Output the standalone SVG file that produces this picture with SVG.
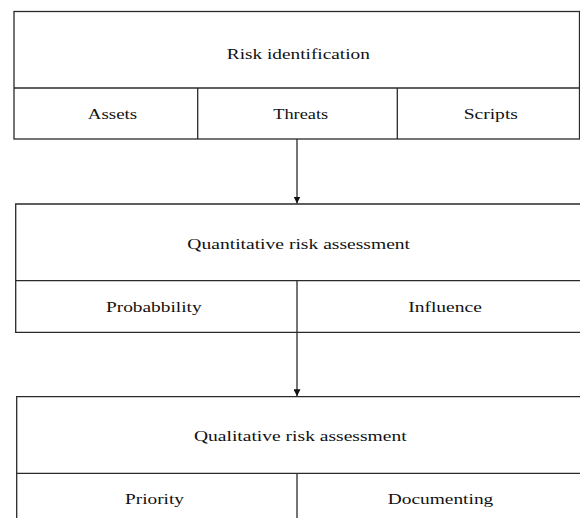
<svg xmlns="http://www.w3.org/2000/svg" width="580" height="518" viewBox="0 0 580 518">
  <style>
    .frame { fill: none; stroke: #2a2a2a; stroke-width: 1.3; }
    .label { font-family: "Liberation Serif", "Times New Roman", serif; font-size: 15.5px; fill: #111; text-anchor: middle; }
    .link { fill: none; stroke: #2a2a2a; stroke-width: 1.3; }
  </style>
  <defs>
    <marker id="arrowhead" markerWidth="8" markerHeight="7" refX="7" refY="3.5" orient="auto" markerUnits="userSpaceOnUse">
      <path d="M0,0 L7,3.5 L0,7 Z" fill="#111"/>
    </marker>
  </defs>
  <rect width="580" height="518" fill="#ffffff"/>

  <!-- Stage 1: risk identification -->
  <g id="risk-identification">
    <rect class="frame" x="14" y="11.5" width="565.5" height="127.5"/>
    <line class="frame" x1="14" y1="88" x2="579.5" y2="88"/>
    <line class="frame" x1="197.7" y1="88" x2="197.7" y2="139"/>
    <line class="frame" x1="397.3" y1="88" x2="397.3" y2="139"/>
    <text class="label" x="298.3" y="59" textLength="143" lengthAdjust="spacingAndGlyphs">Risk identification</text>
    <text class="label" x="112.5" y="119" textLength="49.5" lengthAdjust="spacingAndGlyphs">Assets</text>
    <text class="label" x="300.7" y="119" textLength="55" lengthAdjust="spacingAndGlyphs">Threats</text>
    <text class="label" x="490.8" y="119" textLength="54.3" lengthAdjust="spacingAndGlyphs">Scripts</text>
  </g>

  <!-- Stage 2: quantitative assessment (runs off the right edge) -->
  <g id="quantitative-assessment">
    <path class="frame" d="M582,204 H15.7 V332.3 H582"/>
    <line class="frame" x1="15.7" y1="280.7" x2="582" y2="280.7"/>
    <line class="frame" x1="297" y1="280.7" x2="297" y2="332.3"/>
    <text class="label" x="298.7" y="249" textLength="222.7" lengthAdjust="spacingAndGlyphs">Quantitative risk assessment</text>
    <text class="label" x="153.8" y="312" textLength="95.7" lengthAdjust="spacingAndGlyphs">Probabbility</text>
    <text class="label" x="445" y="312" textLength="73.7" lengthAdjust="spacingAndGlyphs">Influence</text>
  </g>

  <!-- Stage 3: qualitative assessment (runs off the right and bottom edges) -->
  <g id="qualitative-assessment">
    <path class="frame" d="M582,396.7 H16.7 V522"/>
    <line class="frame" x1="16.7" y1="473.3" x2="582" y2="473.3"/>
    <line class="frame" x1="297" y1="473.3" x2="297" y2="522"/>
    <text class="label" x="300.3" y="441" textLength="212.7" lengthAdjust="spacingAndGlyphs">Qualitative risk assessment</text>
    <text class="label" x="154.5" y="504" textLength="59" lengthAdjust="spacingAndGlyphs">Priority</text>
    <text class="label" x="440.5" y="504" textLength="105.6" lengthAdjust="spacingAndGlyphs">Documenting</text>
  </g>

  <!-- Connectors between stages -->
  <g id="connectors">
    <line class="link" x1="297" y1="139" x2="297" y2="203.5" marker-end="url(#arrowhead)"/>
    <line class="link" x1="297" y1="332.3" x2="297" y2="396.2" marker-end="url(#arrowhead)"/>
  </g>
</svg>
